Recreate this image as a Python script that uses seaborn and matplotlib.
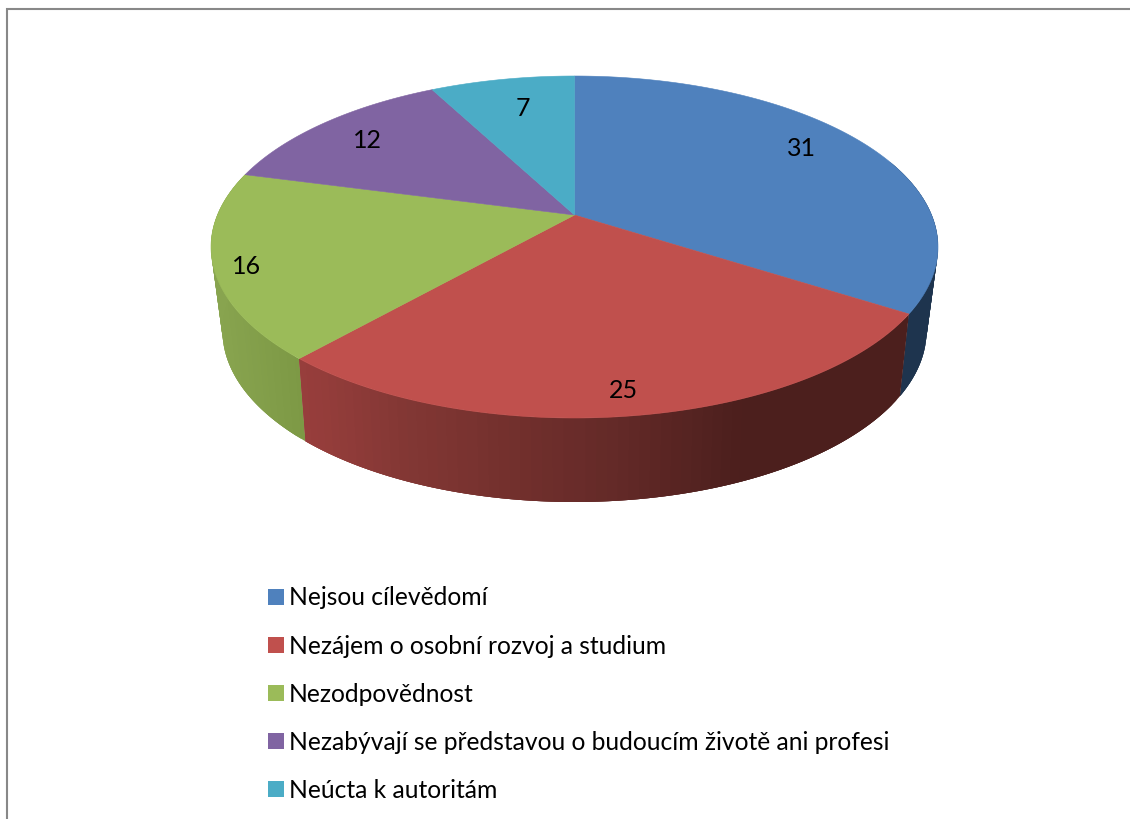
import numpy as np
import matplotlib
matplotlib.use("Agg")
import matplotlib.pyplot as plt
from matplotlib.patches import Patch
import seaborn as sns

categories = ["Nejsou cílevědomí", "Nezájem o osobní rozvoj a studium", "Nezodpovědnost",
              "Nezabývají se představou o budoucím životě ani profesi", "Neúcta k autoritám"]
values = [31, 25, 16, 12, 7]
colors = ["#4F81BD", "#C0504D", "#9BBB59", "#8064A2", "#4BACC6"]

sns.set_theme(style="white", palette=colors)
plt.rcParams['font.family'] = ['Lato', 'DejaVu Sans']
palette = sns.color_palette()

W, H = 1130, 819
fig = plt.figure(figsize=(W / 100, H / 100), dpi=100)
ax = fig.add_axes([0, 0, 1, 1])
ax.set_xlim(0, W)
ax.set_ylim(H, 0)
ax.axis("off")

ax.plot([7, 7, W], [H, 9, 9], color="#888888", lw=1.5, solid_joinstyle="miter")


def project(theta, cx, cy, rx, ry, a, r=1.0):
    """Clockwise angle from 12 o'clock on a tilted disc -> canvas position."""
    u, v = r * np.sin(theta), r * np.cos(theta)
    d = 1 + a * v
    return cx + rx * u * np.sqrt(1 - a * a) / d, cy - ry * (v + a) / d


TOP = (574.5, 247, 363.5, 171, 0.187)
BOT = (574.5, 331, 352, 171, 0.20)

edges = 2 * np.pi * np.concatenate([[0], np.cumsum(values)]) / sum(values)

# side wall shading: (x position, rgb) stops per visible slice
side_stops = {
    0: ([850, 930], [(30, 52, 78), (30, 52, 78)]),
    1: ([300, 400, 500, 600, 730, 910], [(152, 62, 60), (130, 55, 52), (115, 48, 45),
                                         (100, 42, 40), (76, 31, 29), (76, 31, 29)]),
    2: ([212, 305], [(137, 165, 80), (124, 152, 68)]),
}
for i in [0, 2, 1]:
    t0, t1 = edges[i], edges[i + 1]
    t0v, t1v = max(t0, np.radians(70)), min(t1, np.radians(290))
    ts = np.linspace(t0v, t1v, 70)
    xs, cols = side_stops[i]
    # each strip overlaps the next ones so that no seams show between them
    for k in range(len(ts) - 1):
        a0, a1 = ts[k], ts[min(k + 3, len(ts) - 1)]
        arc = np.linspace(a0, a1, 8)
        px, py = project(arc, *TOP)
        qx, qy = project(arc, *BOT)
        xm = (px.mean() + qx.mean()) / 2
        c = [np.interp(xm, xs, [s[j] for s in cols]) / 255 for j in range(3)]
        ax.fill(np.r_[px, qx[::-1]], np.r_[py, qy[::-1]], color=c, lw=0, zorder=2)

for i, col in enumerate(palette[:len(values)]):
    ts = np.linspace(edges[i], edges[i + 1], 200)
    px, py = project(ts, *TOP)
    ax_, ay_ = project(0.0, *TOP, r=0.0)
    ax.fill(np.r_[ax_, px], np.r_[ay_, py], color=col, lw=0.4, zorder=3)

# value labels
label_xy = [(801, 148), (623, 391), (247, 266), (367, 140), (523, 108)]
for v, (x, y) in zip(values, label_xy):
    ax.text(x, y, str(v), ha="center", va="center", fontsize=18, color="black", zorder=4)

handles = [Patch(facecolor=c, edgecolor="none") for c in palette[:len(values)]]
ax.legend(handles, categories, loc="upper left", bbox_to_anchor=(261 / W, 1 - 579 / H),
          frameon=False, fontsize=17.75, handlelength=0.62, handleheight=0.62,
          handletextpad=0.2, labelspacing=1.02, borderpad=0.3, borderaxespad=0,
          labelcolor="black")

fig.savefig("out.png", dpi=100, facecolor="white")
